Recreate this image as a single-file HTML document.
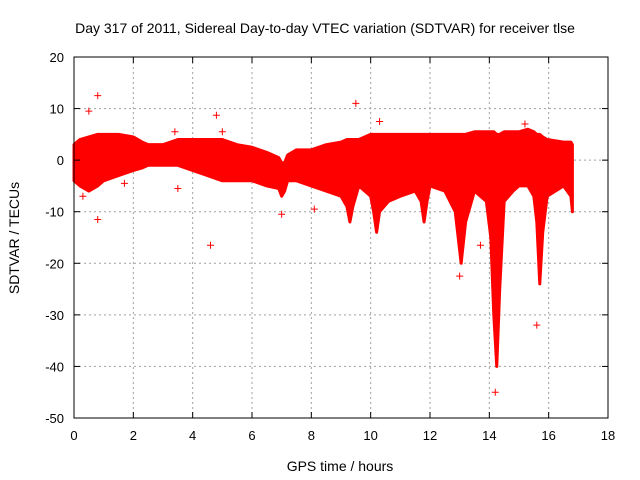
<!DOCTYPE html>
<html><head><meta charset="utf-8"><style>
body{margin:0;background:#fff}
svg{display:block;font-family:"Liberation Sans",sans-serif}
</style></head><body>
<svg id="chart" width="640" height="480">
<text x="325" y="33" font-size="14" text-anchor="middle">Day 317 of 2011, Sidereal Day-to-day VTEC variation (SDTVAR) for receiver tlse</text>
<text x="340" y="471" font-size="14" text-anchor="middle">GPS time / hours</text>
<text transform="translate(19,238) rotate(-90)" font-size="14" text-anchor="middle">SDTVAR / TECUs</text>
<g id="grid"></g><g id="data"></g><g id="axes"></g>
</svg>
<script>
const xTicks=[0,2,4,6,8,10,12,14,16,18];
const yTicks=[20,10,0,-10,-20,-30,-40,-50];
const envHours=[0,0.2,0.5,0.8,1,1.5,2,2.3,2.5,3,3.5,4,4.5,5,5.5,6,6.5,6.9,7,7.1,7.2,7.5,8,8.5,9,9.2,9.3,9.4,9.6,10,10.1,10.2,10.3,10.6,11,11.5,11.7,11.8,11.9,12,12.5,12.85,12.95,13.05,13.2,13.5,13.9,14.05,14.15,14.25,14.35,14.5,14.8,15,15.3,15.5,15.6,15.7,15.8,15.95,16.5,16.75,16.8];
const envUpper=[3,4,4.5,5,5,5,4.5,3.5,3,3,4,4,4,4,3,2.5,1.5,0.5,-0.5,-0.5,1,2,2,3,3.5,4,4,4,4,5,5,5,5,5,5,5,5,5,5,5,5,5,5,5,5,5.5,5.5,5.5,5.5,5,5,5.5,5.5,5.5,6,5.5,5,5,4.5,4,3.5,3.5,3];
const envLower=[-4,-5,-6,-5,-4,-3,-2,-1.5,-1,-1,-1,-2,-3,-4,-4,-4,-5,-5.5,-7,-6,-4,-4,-5,-6,-7,-9,-12,-9,-5,-7,-10,-14,-10,-8,-7,-6,-8,-12,-8,-5,-6,-10,-15,-20,-12,-6,-8,-15,-30,-40,-25,-8,-6,-5,-5,-7,-12,-24,-14,-7,-5,-7,-10];
const outX=[0.5,0.8,0.8,3.4,4.6,4.8,9.5,10.3,13.7,14.2,15.6,15.2,5,3.5,7,8.1,13,0.3,1.7];
const outY=[9.5,12.5,-11.5,5.5,-16.5,8.7,11,7.5,-16.5,-45,-32,7,5.5,-5.5,-10.5,-9.5,-22.5,-7,-4.5];
const L=74,R=608,T=57,B=418;
const xs=v=>L+(v-0)/18*(R-L);
const ys=v=>T+(20-v)/70*(B-T);
const NS='http://www.w3.org/2000/svg';
function mk(tag,attrs,parent){const e=document.createElementNS(NS,tag);for(const k in attrs)e.setAttribute(k,attrs[k]);parent.appendChild(e);return e;}
const grid=document.getElementById('grid'),data=document.getElementById('data'),axes=document.getElementById('axes');
xTicks.forEach(t=>{
 const g=mk('line',{x1:xs(t),x2:xs(t),y1:T,y2:B,stroke:'#a0a0a0','stroke-dasharray':'2,3'},grid);
 
 
 const l=mk('text',{x:xs(t),y:B+22,'font-size':13,'text-anchor':'middle'},axes);l.textContent=t;
 
 
 mk('line',{x1:xs(t),x2:xs(t),y1:B,y2:B-6,stroke:'#000'},axes);
 mk('line',{x1:xs(t),x2:xs(t),y1:T,y2:T+6,stroke:'#000'},axes);
});
yTicks.forEach(t=>{
 const g=mk('line',{x1:L,x2:R,y1:ys(t),y2:ys(t),stroke:'#a0a0a0','stroke-dasharray':'2,3'},grid);
 
 
 const l=mk('text',{x:L-10,y:ys(t)+5,'font-size':13,'text-anchor':'end'},axes);l.textContent=t;
 
 
 mk('line',{x1:L,x2:L+6,y1:ys(t),y2:ys(t),stroke:'#000'},axes);
 mk('line',{x1:R,x2:R-6,y1:ys(t),y2:ys(t),stroke:'#000'},axes);
});
const fr=mk('rect',{x:L,y:T,width:R-L,height:B-T,fill:'none',stroke:'#000'},axes);


let d='';
envHours.forEach((h,i)=>{d+=(i?'L':'M')+xs(h)+','+ys(envUpper[i]);});
for(let i=envHours.length-1;i>=0;i--)d+='L'+xs(envHours[i])+','+ys(envLower[i]);
const band=mk('path',{d:d+'Z',fill:'#ff0000',stroke:'#ff0000','stroke-width':3,'stroke-linejoin':'round'},data);


outX.forEach((h,i)=>{
 const x=xs(h),y=ys(outY[i]);
 const p=mk('path',{d:`M${x-3.5},${y}H${x+3.5}M${x},${y-3.5}V${y+3.5}`,stroke:'#ff0000','stroke-width':1},data);
 
 
});
</script>
</body></html>
